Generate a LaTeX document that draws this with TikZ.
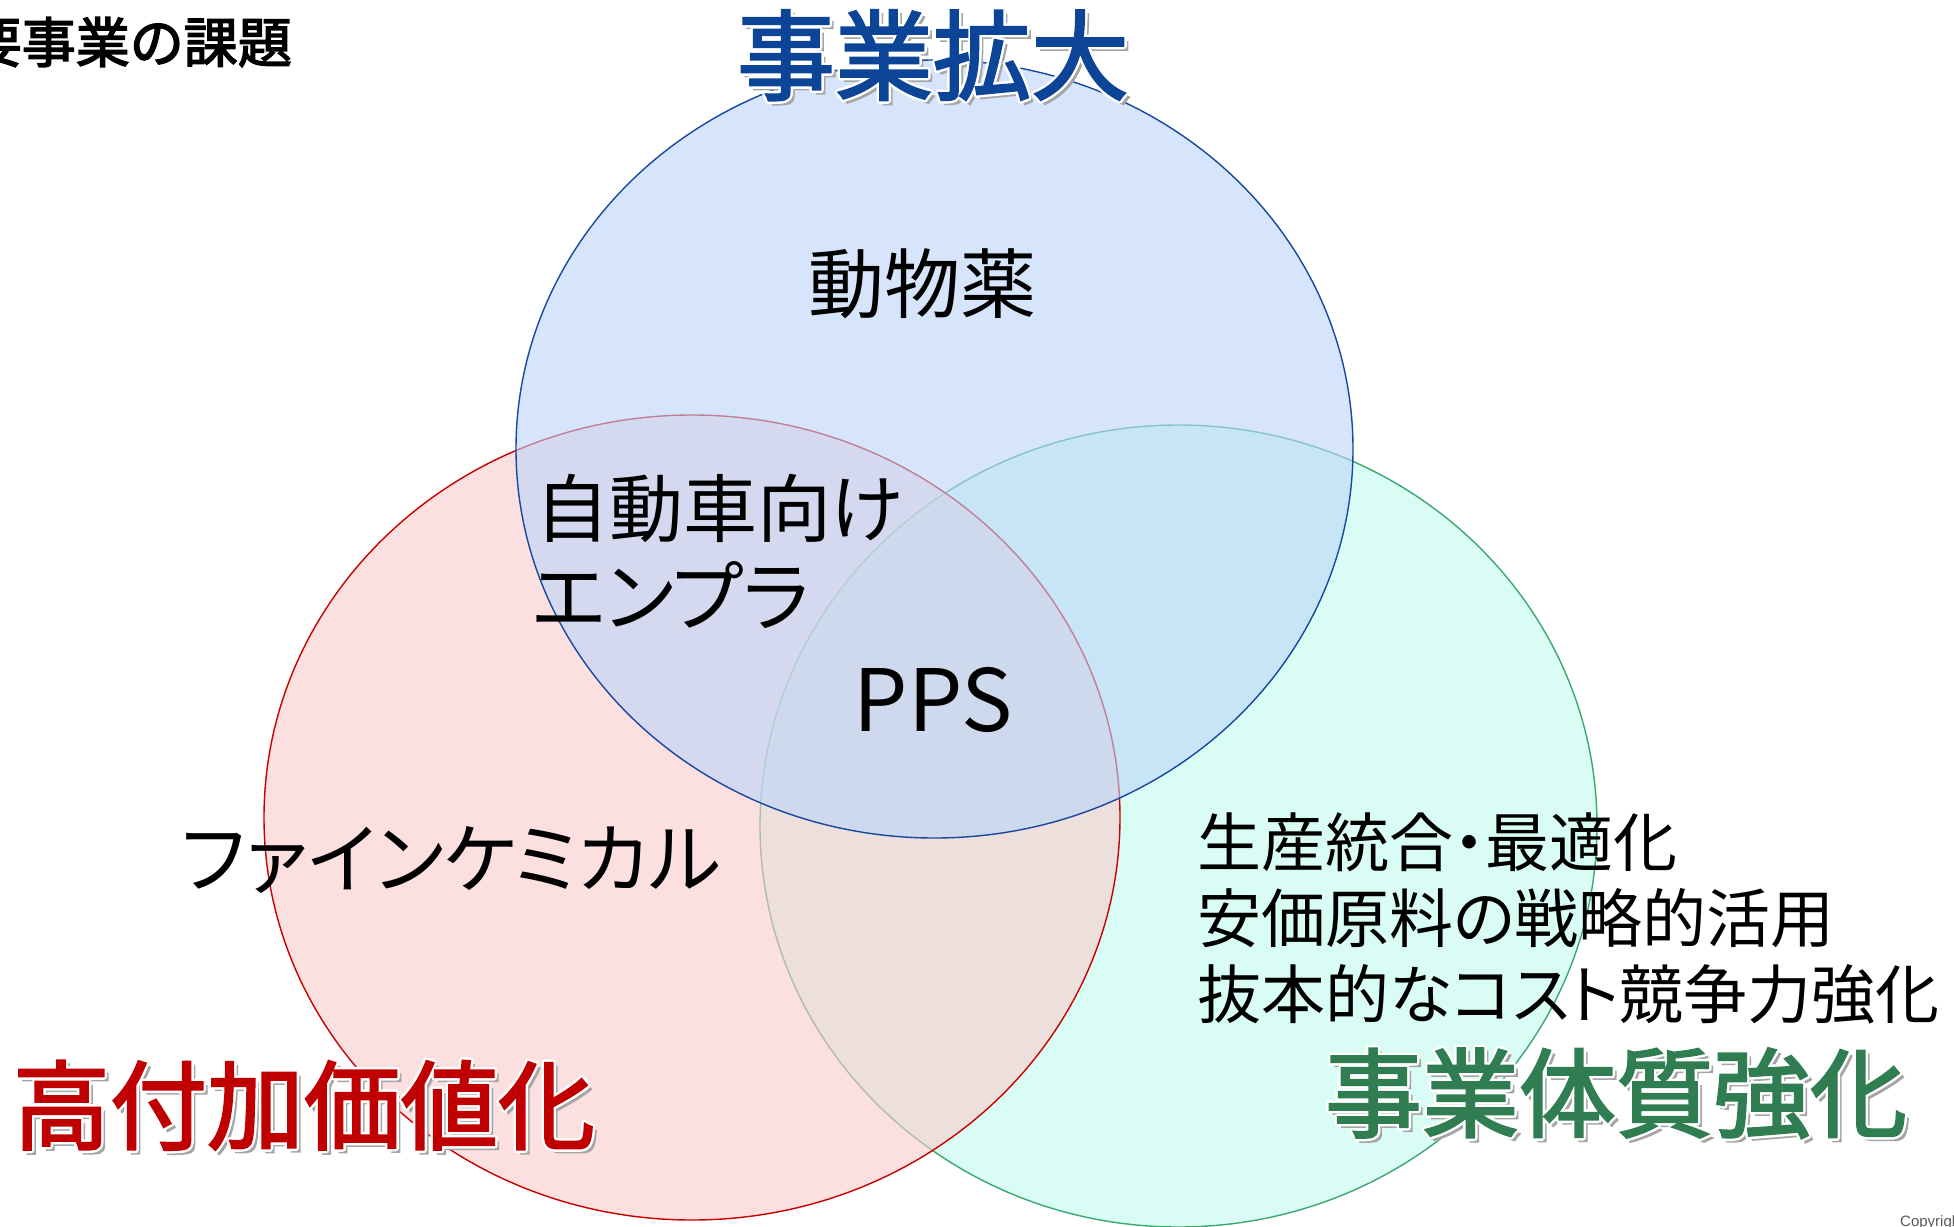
\documentclass[tikz,border=0pt]{standalone}
\usepackage{fontspec}
\setmainfont{Noto Sans CJK JP}
\newfontfamily\jpfont{Noto Sans CJK JP}
\newfontfamily\jppfont[RawFeature=+palt]{Noto Sans CJK JP}
\newfontfamily\jptitlefont[FakeBold=2.2]{Noto Sans CJK JP}
\newfontfamily\jpheadfont[FakeBold=2.8]{Noto Sans CJK JP}
\newfontfamily\latfont{Liberation Sans}
\definecolor{bluefill}{RGB}{187,213,250}
\definecolor{bluestroke}{RGB}{22,72,160}
\definecolor{redfill}{RGB}{251,203,203}
\definecolor{redstroke}{RGB}{200,0,0}
\definecolor{greenfill}{RGB}{192,252,237}
\definecolor{greenstroke}{RGB}{60,168,112}
\definecolor{titleblue}{RGB}{12,68,152}
\definecolor{titlered}{RGB}{192,0,0}
\definecolor{titlegreen}{RGB}{47,125,80}
\definecolor{shadowgray}{RGB}{165,165,165}
\newcommand\fancytitle[2]{\leavevmode
  \rlap{\kern4pt\raisebox{-4pt}{\textcolor{shadowgray}{#2}}}%
  \rlap{\kern-2.5pt\textcolor{white}{#2}}%
  \rlap{\kern2.5pt\textcolor{white}{#2}}%
  \rlap{\raisebox{2.5pt}{\textcolor{white}{#2}}}%
  \rlap{\raisebox{-2.5pt}{\textcolor{white}{#2}}}%
  \rlap{\kern1.8pt\raisebox{1.8pt}{\textcolor{white}{#2}}}%
  \rlap{\kern-1.8pt\raisebox{1.8pt}{\textcolor{white}{#2}}}%
  \rlap{\kern1.8pt\raisebox{-1.8pt}{\textcolor{white}{#2}}}%
  \rlap{\kern-1.8pt\raisebox{-1.8pt}{\textcolor{white}{#2}}}%
  \textcolor{#1}{#2}}
\tikzset{
  vennset/.style={line width=1.4pt, fill opacity=0.6, draw opacity=1},
  bodytext/.style={inner sep=0pt, text=black, font=\jppfont\fontsize{74}{88}\selectfont},
  sidetext/.style={inner sep=0pt, anchor=west, text=black, font=\jppfont\fontsize{64}{76}\selectfont},
  titletext/.style={inner sep=0pt, font=\jptitlefont\fontsize{97}{110}\selectfont},
}
\begin{document}
\begin{tikzpicture}[x=1pt,y=-1pt]
\useasboundingbox (0,0) rectangle (1954,1226);
\clip (0,0) rectangle (1954,1226);
\fill[white] (0,0) rectangle (1954,1226);
% circles: green bottom, red middle, blue top
\draw[vennset, draw=greenstroke, fill=greenfill] (1178.5,826) ellipse [x radius=418.5pt, y radius=401pt];
\draw[vennset, draw=redstroke, fill=redfill] (692,817.5) ellipse [x radius=428pt, y radius=402.5pt];
\draw[vennset, draw=bluestroke, fill=bluefill] (934.5,449) ellipse [x radius=418.5pt, y radius=389pt];
% heading at top left (cut off)
\node[inner sep=0pt, anchor=east, font=\jpheadfont\fontsize{54}{64}\selectfont] (heading) at (292,42) {要事業の課題};
% titles
\node[titletext, font=\jptitlefont\fontsize{98}{110}\selectfont] (tblue) at (933,56) {\fancytitle{titleblue}{事業拡大}};
\node[titletext] (tred) at (304,1106) {\fancytitle{titlered}{高付加価値化}};
\node[titletext] (tgreen) at (1616,1094) {\fancytitle{titlegreen}{事業体質強化}};
% body labels
\node[bodytext, font=\jpfont\fontsize{76}{88}\selectfont] (animal) at (922,284) {動物薬};
\node[bodytext, anchor=west] (auto1) at (535,508) {自動車向け};
\node[bodytext, anchor=west, font=\jppfont\fontsize{77}{90}\selectfont] (auto2) at (532,595) {エンプラ};
\node[bodytext, font=\jpfont\fontsize{86}{100}\selectfont] (pps) at (933.5,699.5) {PPS};
\node[bodytext, font=\jppfont\fontsize{77}{90}\selectfont] (fine) at (451,860) {ファインケミカル};
\node[sidetext] (side1) at (1197,842) {生産統合・最適化};
\node[sidetext] (side2) at (1197,918) {安価原料の戦略的活用};
\node[sidetext] (side3) at (1197,994) {抜本的なコスト競争力強化};
% copyright (cut off at the edge)
\node[inner sep=0pt, anchor=base west, text=black!65, font=\latfont\fontsize{15}{18}\selectfont] (copyr) at (1900,1226) {Copyright};
\end{tikzpicture}
\end{document}
